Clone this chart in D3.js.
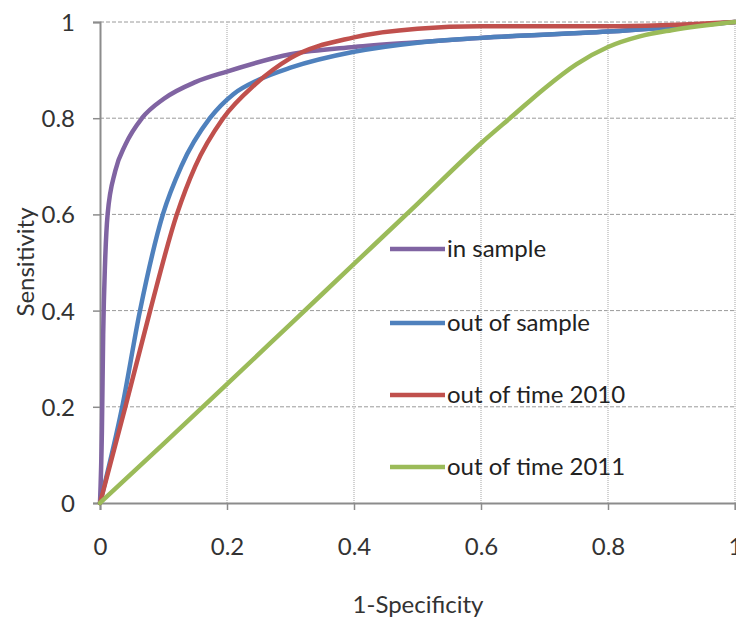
<!DOCTYPE html>
<html><head><meta charset="utf-8">
<script src="https://cdn.jsdelivr.net/npm/d3@7"></script>
<style>body{margin:0;background:#fff;} svg{display:block;}</style>
</head><body>
<svg id="c" width="736" height="623"></svg>
<script>
const seriesNames = ["in sample", "out of sample", "out of time 2010", "out of time 2011"];
const seriesColors = ["#8064A2", "#4F81BD", "#C0504D", "#9BBB59"];
const inSample = [[0,0],[0.003,0.15],[0.005,0.35],[0.008,0.5],[0.012,0.6],[0.024,0.69],[0.04,0.745],[0.066,0.8],[0.1,0.84],[0.15,0.875],[0.2,0.897],[0.3,0.933],[0.4,0.948],[0.5,0.958],[0.6,0.967],[0.8,0.98],[1,1]];
const outSample = [[0,0],[0.035,0.2],[0.063,0.4],[0.099,0.6],[0.128,0.7],[0.173,0.8],[0.21,0.85],[0.25,0.88],[0.3,0.905],[0.4,0.938],[0.5,0.957],[0.6,0.967],[0.8,0.98],[1,1]];
const outTime2010 = [[0,0],[0.04,0.2],[0.079,0.4],[0.121,0.6],[0.15,0.7],[0.194,0.8],[0.244,0.87],[0.3,0.925],[0.4,0.968],[0.5,0.986],[0.6,0.991],[0.8,0.991],[1,1]];
const outTime2011 = [[0,0],[0.1,0.123],[0.2,0.247],[0.3,0.372],[0.4,0.497],[0.5,0.622],[0.6,0.748],[0.65,0.805],[0.7,0.862],[0.75,0.912],[0.8,0.948],[0.85,0.97],[0.9,0.983],[1,1]];
const xTicks = [0,0.2,0.4,0.6,0.8,1];
const yTicks = [0,0.2,0.4,0.6,0.8,1];
const allSeries = [inSample, outSample, outTime2010, outTime2011];

const svg = d3.select("#c");
const x = d3.scaleLinear().domain([0,1]).range([100, 735]);
const y = d3.scaleLinear().domain([0,1]).range([503, 22]);
const font = "Lato, 'Open Sans', sans-serif";
const fs = "24px";

// grid
svg.append("g").selectAll("line").data(yTicks.filter(d=>d>0)).join("line")
  .attr("x1", x(0)).attr("x2", x(1)).attr("y1", d=>y(d)).attr("y2", d=>y(d))
  .attr("stroke", "#9a9a9a").attr("stroke-width", 1).attr("stroke-dasharray", "4,2");
svg.append("g").selectAll("line").data(xTicks.filter(d=>d>0)).join("line")
  .attr("x1", d=>x(d)).attr("x2", d=>x(d)).attr("y1", y(0)).attr("y2", y(1))
  .attr("stroke", "#c4c4c4").attr("stroke-width", 1.5).attr("stroke-dasharray", "1,1");

// axes
const xAxis = d3.axisBottom(x).tickValues(xTicks).tickSize(7).tickPadding(28).tickFormat(d3.format("~g"));
const yAxis = d3.axisLeft(y).tickValues(yTicks).tickSize(7).tickPadding(18).tickFormat(d3.format("~g"));
const gx = svg.append("g").attr("transform", `translate(0,${y(0)})`).call(xAxis);
const gy = svg.append("g").attr("transform", `translate(${x(0)},0)`).call(yAxis);
[gx, gy].forEach(g => {
  g.select(".domain").attr("stroke", "#8c8c8c").attr("stroke-width", 2);
  g.selectAll(".tick line").attr("stroke", "#8c8c8c").attr("stroke-width", 1.5);
  g.selectAll(".tick text").attr("fill", "#333").style("font-family", font).style("font-size", fs);
});
gy.selectAll(".tick text").attr("dy", "0.35em");

// lines (drawn in series order, later on top)
const line = d3.line().x(d=>x(d[0])).y(d=>y(d[1])).curve(d3.curveMonotoneX);
allSeries.forEach((s,i) => {
  svg.append("path").datum(s).attr("d", line)
    .attr("fill", "none").attr("stroke", seriesColors[i]).attr("stroke-width", 4.5)
    .attr("stroke-linejoin", "round").attr("stroke-linecap", "round");
});

// legend
const legY = [249, 323, 395, 467];
const lg = svg.append("g");
seriesNames.forEach((n,i) => {
  lg.append("line").attr("x1", 390).attr("x2", 445).attr("y1", legY[i]).attr("y2", legY[i])
    .attr("stroke", seriesColors[i]).attr("stroke-width", 4.5);
  lg.append("text").attr("x", 447).attr("y", legY[i]).attr("dy", "0.35em")
    .style("font-family", font).style("font-size", fs).attr("fill", "#222").text(n);
});

// titles
svg.append("text").attr("x", 418).attr("y", 613).attr("text-anchor", "middle")
  .style("font-family", font).style("font-size", fs).attr("fill", "#333").text("1-Specificity");
svg.append("text").attr("transform", `translate(34,262) rotate(-90)`).attr("text-anchor", "middle")
  .style("font-family", font).style("font-size", fs).attr("fill", "#333").text("Sensitivity");
</script>
</body></html>
